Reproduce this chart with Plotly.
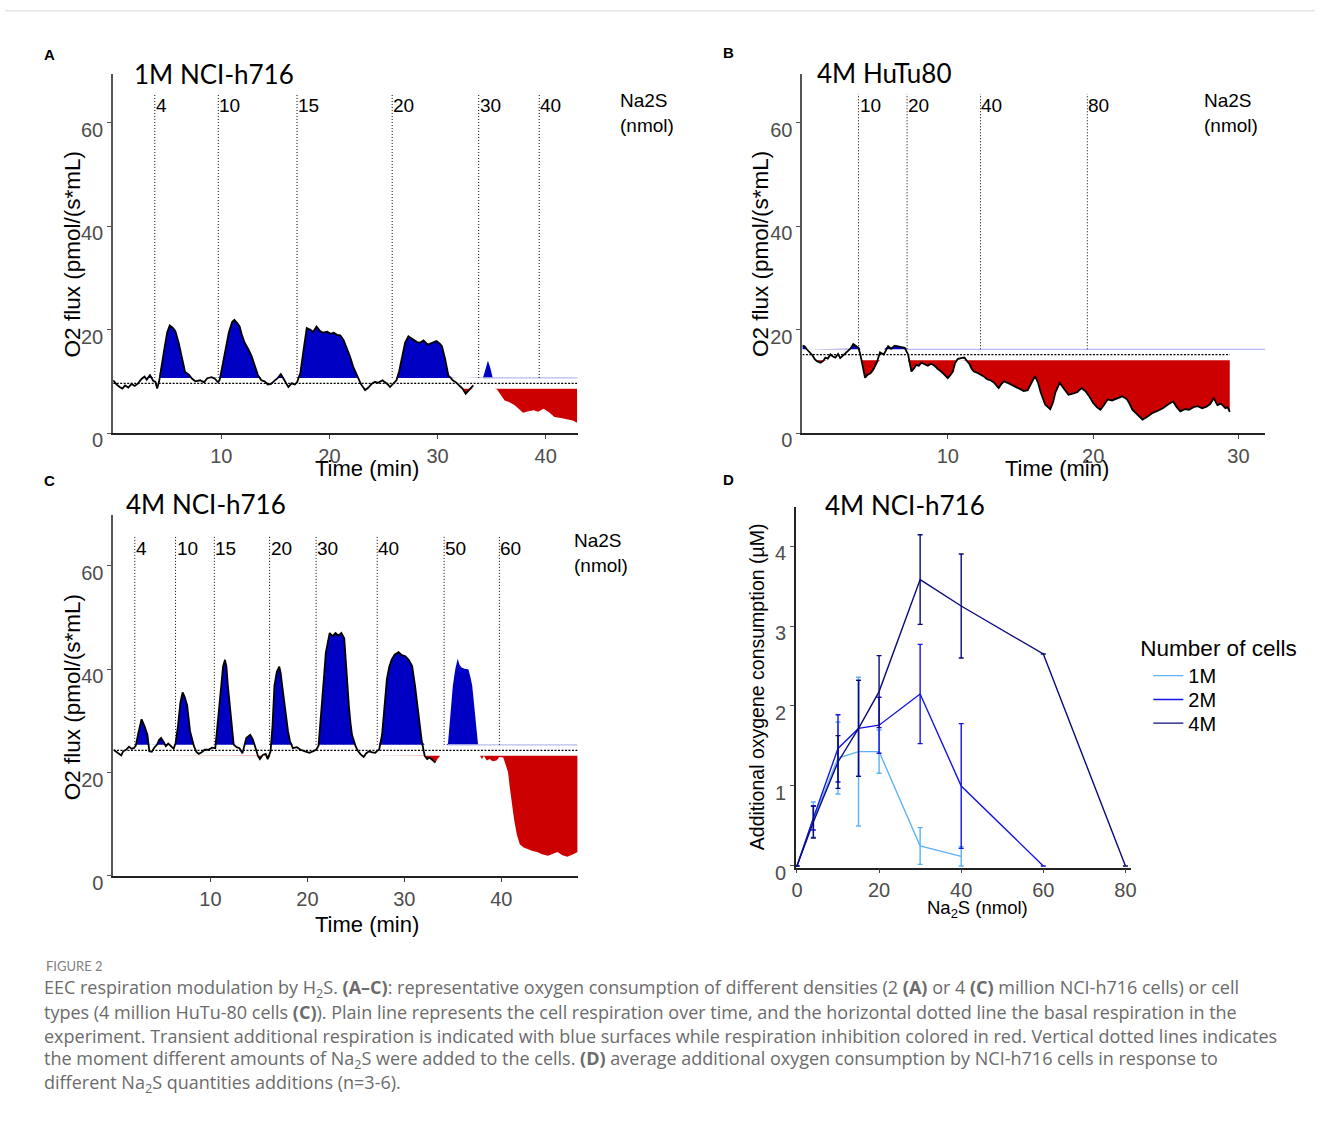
import plotly.graph_objects as go

W, H = 1320, 1132

# ---------------- Panel A : 1M NCI-h716 ----------------
a_time = [0.0, 0.3, 0.6, 0.85, 1.1, 1.4, 1.7, 2.0, 2.3, 2.6, 2.9, 3.1, 3.4, 3.7, 3.9, 4.07, 4.25, 4.5, 4.75, 5.0,
          5.23, 5.5, 5.75, 6.05, 6.35, 6.65, 7.0, 7.3, 7.6, 8.05, 8.4, 8.7, 9.1, 9.4, 9.7, 9.85, 10.1, 10.4, 10.7, 11.0,
          11.2, 11.45, 11.7, 11.9, 12.15, 12.5, 12.8, 13.1, 13.4, 13.7, 14.0, 14.3, 14.6, 14.9, 15.2, 15.5, 15.8, 16.0, 16.2, 16.5,
          16.8, 17.0, 17.3, 17.6, 17.9, 18.2, 18.5, 18.8, 19.1, 19.4, 19.8, 20.1, 20.4, 20.7, 21.0, 21.3, 21.6, 21.9, 22.2, 22.4,
          22.65, 22.9, 23.1, 23.3, 23.6, 23.9, 24.2, 24.5, 24.9, 25.2, 25.4, 25.6, 25.9, 26.2, 26.45, 26.7, 27.0, 27.3, 27.6, 27.9,
          28.1, 28.4, 28.7, 29.1, 29.5, 29.9, 30.2, 30.4, 30.7, 31.0, 31.2, 31.4, 31.7, 32.0, 32.3, 32.6, 32.9, 33.3, 33.7, 34.0,
          34.2, 34.45, 34.65, 34.85, 35.1, 35.3, 35.5, 35.8, 36.2, 36.6, 37.1, 37.5, 37.9, 38.4, 38.9, 39.3, 39.8, 40.3, 40.8, 41.4,
          42.0, 42.5, 42.9]
a_flux = [10.2, 9.4, 8.9, 8.6, 9.2, 8.8, 9.5, 9.1, 9.6, 10.4, 10.9, 10.3, 11.2, 10.1, 9.9, 8.6, 10.0, 13.5, 16.5, 19.5,
          20.8, 20.4, 19.7, 17.5, 14.3, 11.8, 11.3, 10.5, 10.0, 10.2, 9.8, 10.6, 10.8, 10.5, 9.8, 10.3, 13.0, 16.5, 19.5, 21.5,
          21.9, 21.3, 20.6, 19.0, 17.5, 16.2, 14.9, 13.0, 11.1, 10.2, 10.0, 9.4, 9.5, 10.1, 10.6, 11.4, 10.3, 9.4, 8.9, 9.6,
          9.4, 9.8, 11.5, 16.0, 20.3, 20.0, 19.6, 20.6, 19.8, 19.4, 19.6, 19.2, 19.4, 19.0, 18.9, 18.0, 16.5, 14.8, 12.8, 11.8,
          10.4, 9.5, 8.9, 8.3, 8.8, 9.5, 9.9, 9.7, 10.2, 9.8, 9.4, 8.9, 9.5, 10.2, 12.0, 14.3, 17.5, 18.7, 18.3, 18.0,
          17.6, 17.5, 17.9, 17.1, 17.5, 17.8, 17.3, 16.8, 14.3, 11.1, 10.7, 10.2, 9.8, 9.2, 8.6, 7.6, 8.3, 9.2, 9.6, 9.7,
          10.7, 12.5, 14.0, 12.8, 10.6, 9.0, 8.4, 7.5, 6.3, 6.0, 5.4, 4.7, 3.9, 4.2, 4.4, 4.1, 4.7, 4.0, 3.1, 2.9,
          2.6, 2.4, 2.0]
a_basal = 9.6
a_add_time = [3.85, 9.72, 17.0, 25.8, 33.8, 39.4]
a_add_nmol = ["4", "10", "15", "20", "30", "40"]
a_trace_end = 33.3
a_lightline_start = 34.2

# ---------------- Panel B : 4M HuTu80 ----------------
b_time = [0.0, 0.15, 0.3, 0.5, 0.67, 0.85, 1.0, 1.25, 1.45, 1.58, 1.75, 1.93, 2.1, 2.27, 2.45, 2.6, 2.8, 3.06, 3.3, 3.5,
          3.7, 3.86, 4.0, 4.08, 4.2, 4.31, 4.5, 4.7, 4.88, 5.1, 5.34, 5.6, 5.9, 6.1, 6.35, 6.6, 6.85, 7.04, 7.27, 7.4,
          7.5, 7.7, 7.84, 8.0, 8.18, 8.4, 8.63, 8.85, 9.1, 9.3, 9.55, 9.8, 10.0, 10.2, 10.35, 10.5, 10.68, 10.9, 11.14, 11.3,
          11.5, 11.65, 11.8, 12.0, 12.27, 12.5, 12.7, 12.95, 13.2, 13.35, 13.5, 13.7, 13.87, 14.2, 14.55, 14.9, 15.23, 15.5, 15.7, 15.9,
          16.0, 16.2, 16.4, 16.7, 17.05, 17.25, 17.4, 17.7, 18.0, 18.3, 18.6, 18.9, 19.2, 19.5, 19.75, 20.0, 20.25, 20.5, 20.75, 21.0,
          21.3, 21.6, 22.0, 22.3, 22.5, 22.7, 23.0, 23.4, 23.75, 24.1, 24.45, 24.8, 25.2, 25.5, 25.75, 26.0, 26.3, 26.6, 26.9, 27.2,
          27.5, 27.8, 28.05, 28.3, 28.55, 28.8, 29.1, 29.25, 29.4]
b_flux = [16.9, 16.8, 16.2, 15.6, 15.1, 14.3, 13.9, 13.6, 14.0, 14.6, 14.4, 15.2, 14.8, 14.6, 15.3, 14.5, 15.0, 15.6, 16.3, 17.2,
          16.9, 16.5, 15.0, 13.9, 12.0, 10.7, 11.3, 11.6, 12.3, 13.5, 15.6, 15.2, 16.8, 16.3, 16.9, 16.8, 16.6, 16.5, 15.2, 12.8,
          11.9, 12.6, 13.2, 13.0, 13.6, 13.3, 13.0, 13.4, 13.0, 12.4, 11.9, 11.2, 10.6, 11.3, 11.9, 13.5, 14.3, 14.5, 14.6, 14.0,
          13.3, 12.4, 11.9, 11.7, 11.3, 10.9, 10.4, 10.2, 9.7, 9.1, 8.7, 9.5, 10.0, 9.6, 9.1, 8.7, 8.1, 8.3, 9.4, 10.5,
          11.0, 9.8, 7.8, 5.5, 4.6, 6.0, 7.8, 9.7, 8.5, 7.4, 7.6, 7.9, 8.7, 8.0, 7.0, 5.8, 5.0, 4.5, 5.4, 6.5,
          6.3, 6.7, 7.1, 6.6, 5.7, 4.5, 3.6, 2.6, 3.2, 3.9, 4.3, 4.8, 5.6, 6.1, 5.0, 4.2, 4.6, 4.5, 5.0, 5.2,
          4.8, 5.1, 5.6, 6.7, 5.4, 5.7, 4.8, 5.0, 4.1]
b_basal = 15.15
b_add_time = [3.86, 7.2, 12.25, 19.6]
b_add_nmol = ["10", "20", "40", "80"]
b_trace_end = 29.4
b_lightline_start = 7.15

# ---------------- Panel C : 4M NCI-h716 ----------------
c_time = [0.0, 0.3, 0.58, 0.8, 1.0, 1.3, 1.6, 1.85, 2.1, 2.3, 2.55, 2.9, 3.2, 3.5, 3.7, 3.95, 4.2, 4.5, 4.7, 4.9,
          5.15, 5.4, 5.65, 5.9, 6.2, 6.4, 6.65, 6.9, 7.13, 7.35, 7.6, 7.9, 8.3, 8.55, 8.8, 9.1, 9.4, 9.8, 10.15, 10.5,
          10.8, 11.1, 11.3, 11.5, 11.65, 11.8, 12.0, 12.2, 12.4, 12.7, 13.0, 13.3, 13.5, 13.7, 14.1, 14.35, 14.6, 14.9, 15.1, 15.4,
          15.7, 15.9, 16.2, 16.4, 16.6, 16.85, 17.1, 17.25, 17.4, 17.6, 17.8, 18.0, 18.2, 18.5, 18.9, 19.3, 19.75, 20.2, 20.55, 20.9,
          21.15, 21.4, 21.65, 21.9, 22.1, 22.3, 22.6, 22.9, 23.2, 23.5, 23.8, 24.0, 24.15, 24.3, 24.45, 24.6, 24.97, 25.2, 25.5, 25.8,
          26.05, 26.35, 26.7, 27.0, 27.2, 27.4, 27.7, 27.95, 28.2, 28.45, 28.7, 29.0, 29.4, 29.75, 30.1, 30.45, 30.8, 31.1, 31.3, 31.5,
          31.65, 31.8, 32.1, 32.35, 32.6, 32.9, 33.2, 33.45, 33.7, 34.0, 34.3, 34.5, 34.75, 35.0, 35.25, 35.5, 35.7, 35.9, 36.2, 36.6,
          36.8, 37.0, 37.15, 37.3, 37.45, 37.6, 37.8, 38.0, 38.2, 38.5, 38.8, 39.1, 39.5, 39.8, 40.2, 40.45, 40.7, 40.85, 41.0, 41.2,
          41.35, 41.6, 41.9, 42.3, 42.7, 43.2, 43.7, 44.2, 44.8, 45.3, 45.8, 46.3, 46.8, 47.3, 47.87]
c_flux = [24.4, 24.0, 23.6, 23.3, 24.1, 24.4, 25.0, 24.6, 24.7, 25.2, 27.5, 30.3, 29.0, 27.3, 24.1, 24.0, 24.8, 25.4, 26.3, 26.7,
          26.0, 25.1, 25.6, 25.2, 24.6, 25.6, 29.0, 33.5, 35.5, 34.6, 33.0, 28.0, 25.1, 24.0, 23.6, 23.9, 24.4, 24.4, 24.8, 24.7,
          30.5, 36.5, 40.5, 41.8, 40.5, 36.8, 32.5, 29.2, 25.4, 24.9, 24.7, 23.7, 25.0, 26.7, 27.3, 26.5, 25.1, 23.2, 22.6, 23.4,
          23.6, 22.6, 24.1, 29.0, 36.8, 39.5, 40.5, 39.2, 36.8, 33.5, 30.5, 28.0, 26.1, 24.7, 24.9, 24.4, 24.1, 23.8, 24.1, 24.4,
          25.2, 30.5, 37.0, 43.2, 45.5, 47.0, 46.4, 47.0, 46.5, 47.0, 46.0, 40.0, 36.0, 32.4, 29.5, 27.3, 25.1, 24.2, 23.5, 23.0,
          23.7, 24.1, 23.9, 23.8, 24.2, 24.4, 27.3, 33.0, 38.1, 40.5, 41.9, 42.8, 43.3, 42.7, 42.5, 41.8, 40.6, 36.8, 34.0, 31.1,
          28.5, 26.0, 23.2, 22.6, 22.9, 22.4, 21.9, 22.7, 23.8, 24.3, 24.6, 25.6, 31.0, 36.8, 40.0, 42.0, 40.8, 40.3, 40.1, 40.0,
          38.6, 36.8, 34.0, 31.1, 28.0, 25.4, 24.5, 22.6, 23.5, 22.3, 22.6, 22.2, 22.3, 23.0, 22.9, 21.5, 20.0, 17.5, 15.0, 12.5,
          10.5, 8.0, 6.1, 5.5, 5.2, 4.8, 4.6, 4.2, 3.9, 4.2, 4.6, 4.0, 3.7, 4.1, 4.6]
c_basal = 24.3
c_add_time = [2.2, 6.4, 10.4, 16.1, 20.9, 27.2, 34.1, 39.8]
c_add_nmol = ["4", "10", "15", "20", "30", "40", "50", "60"]
c_trace_end = 33.2
c_lightline_start = 34.5

# ---------------- Panel D : dose response ----------------
d_x_1m = [0, 4, 10, 15, 20, 30, 40]
d_y_1m = [0, 0.58, 1.35, 1.43, 1.43, 0.25, 0.12]
d_e_1m = [None, 0.22, 0.45, 0.93, 0.27, 0.23, 0.12]
d_x_2m = [0, 4, 10, 15, 20, 30, 40, 60]
d_y_2m = [0, 0.6, 1.47, 1.72, 1.76, 2.15, 1.0, 0]
d_e_2m = [None, 0.15, 0.42, 0.6, 0.35, 0.62, 0.78, None]
d_x_4m = [0, 4, 10, 15, 20, 30, 40, 60, 80]
d_y_4m = [0, 0.55, 1.3, 1.72, 2.18, 3.58, 3.25, 2.65, 0]
d_e_4m = [None, 0.2, 0.33, 0.6, 0.45, 0.56, 0.65, None, None]

# ---------------- styles ----------------
BLUE_FILL = "#0000C4"
RED_FILL = "#CC0000"
LIGHT_LINE = "#B8BCEE"
C1M, C2M, C4M = "#5DB2F2", "#1414E6", "#0A0A7A"
AX_FONT = "Liberation Sans"
TITLE_FONT = "Lato"
CAP_FONT = "Open Sans"
BAND = 1.05
MARK_TOP = 65.6
MARK_LABEL_Y = 63.4


def px(x):
    return x / W


def py(y):
    return 1 - y / H


fig = go.Figure()
shapes = []
annotations = []


def add_trace_panel(t, v, basal, add_t, add_lbl, trace_end, light_start, x_end, xa, ya):
    hi, lo = basal + BAND, basal - BAND
    n = len(t)
    upper = [max(val, hi) for val in v]
    lower = [min(val, lo) for val in v]
    common = dict(xaxis=xa, yaxis=ya, showlegend=False, hoverinfo="skip", mode="lines")
    # additional respiration (blue) and inhibition (red) surfaces
    fig.add_trace(go.Scatter(x=t, y=[hi] * n, line=dict(width=0, color=BLUE_FILL), **common))
    fig.add_trace(go.Scatter(x=t, y=upper, fill="tonexty", fillcolor=BLUE_FILL,
                             line=dict(width=0, color=BLUE_FILL), **common))
    fig.add_trace(go.Scatter(x=t, y=[lo] * n, line=dict(width=0, color=RED_FILL), **common))
    fig.add_trace(go.Scatter(x=t, y=lower, fill="tonexty", fillcolor=RED_FILL,
                             line=dict(width=0, color=RED_FILL), **common))
    # light line marking the upper band limit
    fig.add_trace(go.Scatter(x=[light_start, x_end], y=[hi, hi],
                             line=dict(width=1.2, color=LIGHT_LINE), **common))
    # basal respiration (dotted)
    fig.add_trace(go.Scatter(x=[0, t[-1]], y=[basal, basal],
                             line=dict(width=1.3, color="black", dash="2px,1.5px"), **common))
    # recorded trace
    tt = [a for a in t if a <= trace_end]
    vv = [b for a, b in zip(t, v) if a <= trace_end]
    fig.add_trace(go.Scatter(x=tt, y=vv, line=dict(width=1.8, color="black"), **common))
    # Na2S additions
    for m, lbl in zip(add_t, add_lbl):
        shapes.append(dict(type="line", xref=xa, yref=ya, x0=m, x1=m, y0=hi, y1=MARK_TOP,
                           line=dict(color="black", width=1, dash="1px,2px")))
        annotations.append(dict(xref=xa, yref=ya, x=m, y=MARK_LABEL_Y, text=lbl, showarrow=False,
                                xanchor="left", yanchor="middle", xshift=-1,
                                font=dict(family=AX_FONT, size=19, color="black")))


add_trace_panel(a_time, a_flux, a_basal, a_add_time, a_add_nmol, a_trace_end, a_lightline_start, 43.0, "x", "y")
add_trace_panel(b_time, b_flux, b_basal, b_add_time, b_add_nmol, b_trace_end, b_lightline_start, 31.85, "x2", "y2")
add_trace_panel(c_time, c_flux, c_basal, c_add_time, c_add_nmol, c_trace_end, c_lightline_start, 47.87, "x3", "y3")

for name, xs, ys, es, col, lg in [("1M", d_x_1m, d_y_1m, d_e_1m, C1M, "legend"),
                                  ("2M", d_x_2m, d_y_2m, d_e_2m, C2M, "legend2"),
                                  ("4M", d_x_4m, d_y_4m, d_e_4m, C4M, "legend3")]:
    fig.add_trace(go.Scatter(x=xs, y=ys, name=name, mode="lines", xaxis="x4", yaxis="y4",
                             line=dict(color=col, width=1.4), legend=lg,
                             error_y=dict(type="data", array=es, visible=True, color=col,
                                          thickness=1.4, width=2.5),
                             cliponaxis=False))

tick_font = dict(family=AX_FONT, size=20, color="#4d4d4d")


def xaxis_style(domain, rng, tickvals):
    return dict(domain=domain, range=rng, tickvals=tickvals, showgrid=False, zeroline=False,
                showline=True, linecolor="#222", linewidth=1.5, ticks="outside", ticklen=4,
                tickcolor="#444", tickfont=tick_font, fixedrange=True)


def yaxis_style(domain, rng, tickvals, anchor):
    return dict(domain=domain, range=rng, tickvals=tickvals, showgrid=False, zeroline=False,
                showline=True, linecolor="#555", linewidth=2, ticks="outside", ticklen=4,
                tickcolor="#555", tickfont=tick_font, anchor=anchor, ticklabelshift=7,
                ticklabelstandoff=0, fixedrange=True)


legend_common = dict(x=px(1142), xanchor="left", yanchor="top", traceorder="normal",
                     font=dict(family=AX_FONT, size=20, color="black"),
                     bgcolor="rgba(0,0,0,0)", itemwidth=30)

fig.update_layout(
    width=W, height=H, margin=dict(l=0, r=0, t=0, b=0),
    paper_bgcolor="white", plot_bgcolor="white",
    xaxis=xaxis_style([px(109), px(577)], [0, 42.95], [10, 20, 30, 40]),
    yaxis=yaxis_style([py(440), py(75)], [0, 69.5], [0, 20, 40, 60], "x"),
    xaxis2=dict(xaxis_style([px(803.5), px(1270)], [0, 31.85], [10, 20, 30]), anchor="y2"),
    yaxis2=yaxis_style([py(440), py(75)], [0, 69.5], [0, 20, 40, 60], "x2"),
    xaxis3=dict(xaxis_style([px(109.3), px(577)], [0, 47.87], [10, 20, 30, 40]), anchor="y3"),
    yaxis3=yaxis_style([py(890), py(523)], [0, 69.9], [0, 20, 40, 60], "x3"),
    xaxis4=dict(xaxis_style([px(797), px(1135)], [-0.24, 81.45], [0, 20, 40, 60, 80]), anchor="y4"),
    yaxis4=dict(yaxis_style([py(881.6), py(515)], [-0.02, 4.49], [0, 1, 2, 3, 4], "x4"),
                linecolor="#222", linewidth=1.5),
    legend=dict(legend_common, y=py(637), indentation=10,
                title=dict(text="Number of cells", font=dict(family=AX_FONT, size=22.5, color="black"))),
    legend2=dict(legend_common, y=py(691), indentation=10),
    legend3=dict(legend_common, y=py(715), indentation=10),
    showlegend=True,
)


def note(x, y, text, size, color="black", family=AX_FONT, xanchor="left", yanchor="middle", angle=0, align="left"):
    annotations.append(dict(xref="paper", yref="paper", x=px(x), y=py(y), text=text, showarrow=False,
                            xanchor=xanchor, yanchor=yanchor, textangle=angle, align=align,
                            font=dict(family=family, size=size, color=color)))


# panel letters
note(45, 55, "<b>A</b>", 15, xanchor="center")
note(729, 53, "<b>B</b>", 15, xanchor="center")
note(45, 488, "<b>C</b>", 15, xanchor="center")
note(729, 487, "<b>D</b>", 15, xanchor="center")

# panel titles
note(128, 75, "1M NCI-h716", 26, family=TITLE_FONT)
note(816, 74, "4M HuTu80", 26, family=TITLE_FONT)
note(120, 512, "4M NCI-h716", 26, family=TITLE_FONT)
note(824, 513, "4M NCI-h716", 26, family=TITLE_FONT)

# Na2S (nmol) labels
note(618, 115, "Na2S<br>(nmol)", 19)
note(1206, 115, "Na2S<br>(nmol)", 19)
note(571, 562, "Na2S<br>(nmol)", 19)

# axis titles
note(68, 258, "O2 flux (pmol/(s*mL)", 22.5, xanchor="center", angle=-90)
note(762, 258, "O2 flux (pmol/(s*mL)", 22.5, xanchor="center", angle=-90)
note(68, 708, "O2 flux (pmol/(s*mL)", 22.5, xanchor="center", angle=-90)
note(758, 698, "Additional oxygene consumption (µM)", 19.5, xanchor="center", angle=-90)
note(365, 476, "Time (min)", 22, xanchor="center")
note(1060, 476, "Time (min)", 22, xanchor="center")
note(365, 939, "Time (min)", 22, xanchor="center")
note(980, 924, "Na<sub>2</sub>S (nmol)", 18.5, xanchor="center")

# caption
CAP = "#6b6b6b"
note(39, 982, "FIGURE 2", 13, color="#808080", family=TITLE_FONT)
cap_lines = [
    "EEC respiration modulation by H<sub>2</sub>S. <b>(A–C)</b>: representative oxygen consumption of different densities (2 <b>(A)</b> or 4 <b>(C)</b> million NCI-h716 cells) or cell",
    "types (4 million HuTu-80 cells <b>(C)</b>). Plain line represents the cell respiration over time, and the horizontal dotted line the basal respiration in the",
    "experiment. Transient additional respiration is indicated with blue surfaces while respiration inhibition colored in red. Vertical dotted lines indicates",
    "the moment different amounts of Na<sub>2</sub>S were added to the cells. <b>(D)</b> average additional oxygen consumption by NCI-h716 cells in response to",
    "different Na<sub>2</sub>S quantities additions (n=3-6).",
]
for i, line in enumerate(cap_lines):
    note(37, 1004 + i * 24.3, line, 18, color=CAP, family=CAP_FONT)

# top rule
shapes.append(dict(type="line", xref="paper", yref="paper", x0=0, x1=1, y0=py(11), y1=py(11),
                   line=dict(color="#d8d8d8", width=1)))

fig.update_layout(shapes=shapes, annotations=annotations)

pin_page = ("var gd=document.getElementById('{plot_id}');"
            "gd.style.position='fixed';gd.style.left='0px';gd.style.top='0px';"
            "document.documentElement.style.overflow='hidden';"
            "document.body.style.overflow='hidden';document.body.style.margin='0px';")
fig.write_html("out.html", post_script=pin_page, config={"displayModeBar": False})
